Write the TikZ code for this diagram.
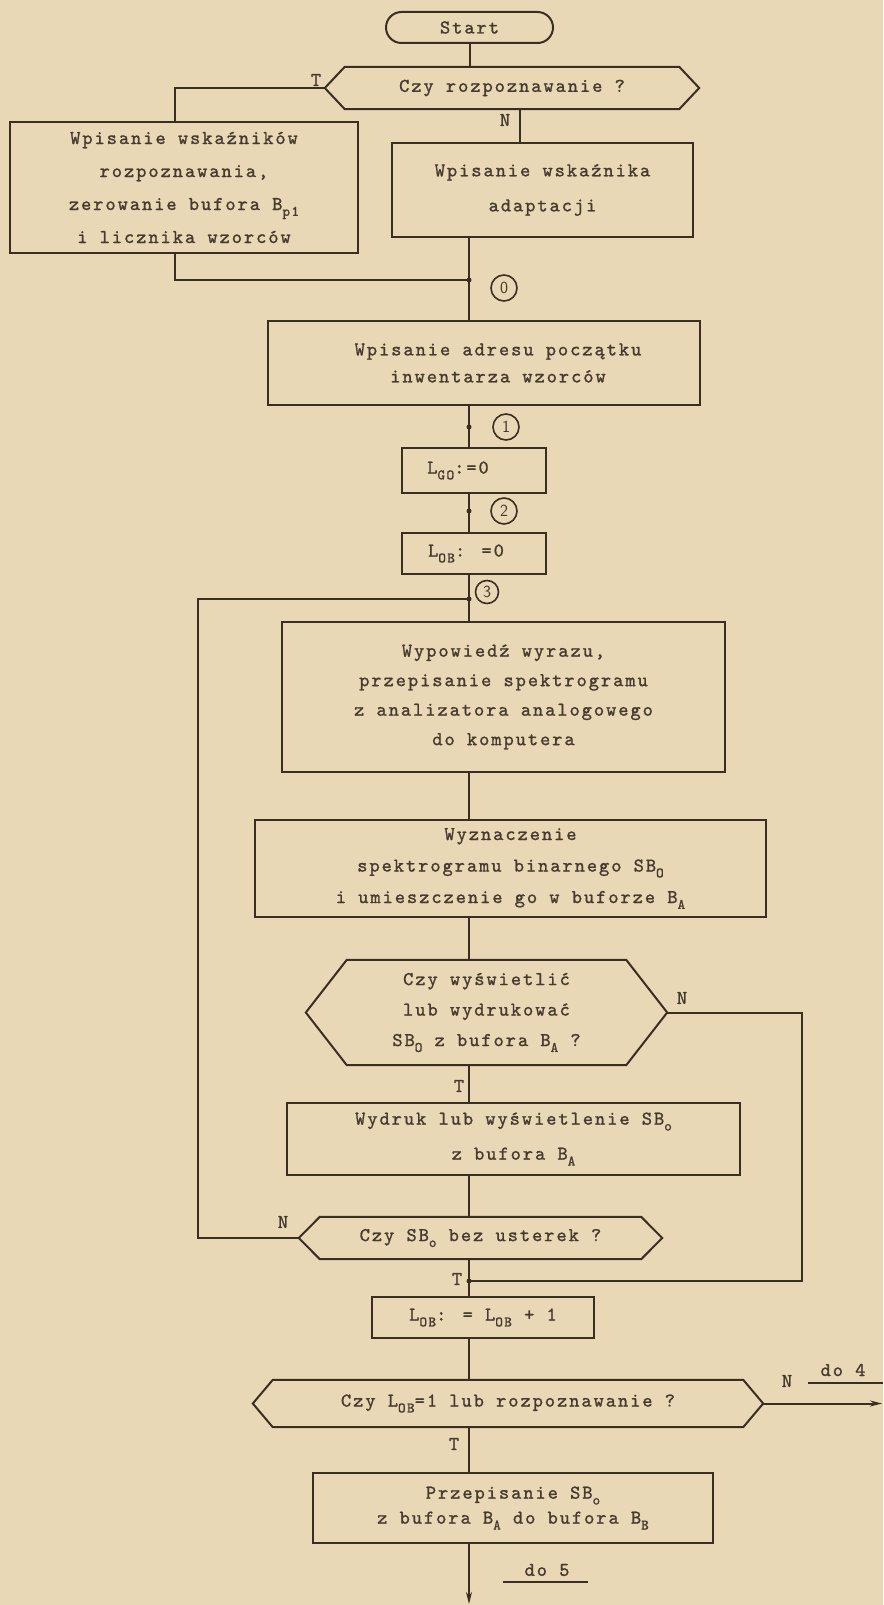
\documentclass[tikz,border=0pt]{standalone}
\usepackage{fontspec}
\newfontfamily\tw{lmmono10-regular.otf}[LetterSpace=10,FakeBold=1.2]
\usetikzlibrary{shapes.misc,arrows.meta,calc}
\definecolor{paper}{RGB}{233,216,182}
\definecolor{ink}{RGB}{58,46,35}
\definecolor{txt}{RGB}{70,58,46}
\newcommand\sbx[1]{\raisebox{-0.3em}{\fontsize{14.5}{14.5}\selectfont #1}}
\newcommand\hexdraw[2]{\draw[lnk] (#1.west) -- ([xshift=#2]#1.north west) -- ([xshift=-#2]#1.north east) -- (#1.east) -- ([xshift=-#2]#1.south east) -- ([xshift=#2]#1.south west) -- cycle;}
\begin{document}
\begin{tikzpicture}[x=1pt,y=-1pt,
  every node/.style={text=txt, font={\tw\fontsize{19.5}{30}\selectfont}},
  ls/.style={font={\tw\fontsize{19.5}{#1}\selectfont}},
  box/.style={draw=ink, line width=2pt, rectangle, inner sep=0pt, align=center},
  hexnode/.style={inner sep=0pt, align=center},
  term/.style={draw=ink, line width=2pt, rounded rectangle, inner sep=0pt},
  lnk/.style={draw=ink, line width=2pt},
  lbl/.style={inner sep=0pt},
  conn/.style={draw=ink, line width=1.6pt, circle, inner sep=0pt, minimum size=26pt, font={\sffamily\fontsize{17}{17}\selectfont}},
  dot/.style={fill=ink, circle, inner sep=0pt, minimum size=5pt},
]
\fill[paper] (0,0) rectangle (883,1605);
\useasboundingbox (0,0) rectangle (883,1605);

\node[term, minimum width=167pt, minimum height=31pt] (start) at (469.5,27.5) {Start};
\node[hexnode, minimum width=374pt, minimum height=42pt] (d1) at (512,88) {Czy rozpoznawanie ?};
\hexdraw{d1}{20pt}
\draw[lnk] (start.south) -- (start.south |- d1.north);
\node[lbl] (t1) at (316,80) {T};
\node[box, minimum width=348pt, minimum height=131pt, ls=33] (lb) at (184,187.5) {Wpisanie wskaźników\\rozpoznawania,\\zerowanie bufora B\sbx{p1}\\i licznika wzorców};
\draw[lnk] (d1.west) -| ([xshift=-9pt]lb.north);
\node[lbl] (n1) at (505,120) {N};
\node[box, minimum width=301pt, minimum height=94pt, ls=35] (rb) at (542.5,190) {Wpisanie wskaźnika\\adaptacji};
\draw[lnk] ([xshift=8pt]d1.south) -- ([xshift=8pt]d1.south |- rb.north);
\coordinate (j0) at (469,280);
\draw[lnk] (rb.south -| j0) -- (j0);
\draw[lnk] ([xshift=-9pt]lb.south) |- (j0);
\node[dot] (dj0) at (j0) {};
\node[conn] (c0) at (504,288) {0};
\node[box, minimum width=432pt, minimum height=84pt, ls=27] (b3) at (484,363) {\hspace*{28pt}Wpisanie adresu początku\\\hspace*{28pt}inwentarza wzorców};
\draw[lnk] (j0) -- (j0 |- b3.north);
\coordinate (j1) at (469,427);
\node[box, minimum width=144pt, minimum height=45pt] (lgo) at (474,470.5) {L\sbx{GO}:=0\hspace*{32pt}};
\draw[lnk] (b3.south -| j0) -- (lgo.north -| j0);
\node[dot] (dj1) at (j1) {};
\node[conn] (c1) at (506,427) {1};
\coordinate (j2) at (469,511);
\node[box, minimum width=144pt, minimum height=41pt] (lob) at (474,553.5) {L\sbx{OB}: =0\hspace*{16pt}};
\draw[lnk] (lgo.south -| j0) -- (lob.north -| j0);
\node[dot] (dj2) at (j2) {};
\node[conn] (c2) at (504,511) {2};
\coordinate (j3) at (469,599);
\node[box, minimum width=443pt, minimum height=150pt, ls=29.5] (bb) at (503.5,697) {Wypowiedź wyrazu,\\przepisanie spektrogramu\\z analizatora analogowego\\do komputera};
\draw[lnk] (lob.south -| j0) -- (bb.north -| j0);
\node[dot] (dj3) at (j3) {};
\node[conn, minimum size=23pt] (c3) at (487,592) {3};
\node[box, minimum width=511pt, minimum height=97pt, ls=31.5] (wz) at (510.5,868.5) {Wyznaczenie\\spektrogramu binarnego SB\sbx{O}\\i umieszczenie go w buforze B\sbx{A}};
\draw[lnk] (bb.south -| j0) -- (wz.north -| j0);
\node[hexnode, minimum width=361pt, minimum height=105pt, ls=30.5] (h2) at (486.5,1012.5) {Czy wyświetlić\\lub wydrukować\\SB\sbx{O} z bufora B\sbx{A} ?};
\hexdraw{h2}{41pt}
\draw[lnk] (wz.south -| j0) -- (h2.north -| j0);
\node[lbl] (n2) at (682,998) {N};
\node[lbl] (t2) at (459,1086) {T};
\node[box, minimum width=453pt, minimum height=72pt, ls=35] (wd) at (513.5,1139) {Wydruk lub wyświetlenie SB\sbx{o}\\z bufora B\sbx{A}};
\draw[lnk] (h2.south -| j0) -- (wd.north -| j0);
\node[hexnode, minimum width=363pt, minimum height=42pt] (h3) at (480.5,1238) {Czy SB\sbx{o} bez usterek ?};
\hexdraw{h3}{21pt}
\draw[lnk] (wd.south -| j0) -- (h3.north -| j0);
\node[lbl] (n3) at (283,1222) {N};
\coordinate (lt) at (198,599);
\draw[lnk] (h3.west) -| (lt) -- (j3);
\coordinate (j5) at (469,1281);
\coordinate (rt) at (802,1281);
\draw[lnk] (h2.east) -| (rt) -- (j5);
\node[lbl] (t3) at (457,1279) {T};
\node[box, minimum width=222pt, minimum height=41pt] (lp) at (483,1317.5) {L\sbx{OB}: = L\sbx{OB} + 1};
\draw[lnk] (h3.south -| j0) -- (lp.north -| j0);
\node[dot] (dj5) at (j5) {};
\node[hexnode, minimum width=510pt, minimum height=47pt] (d4) at (508,1403.5) {Czy L\sbx{OB}=1 lub rozpoznawanie ?};
\hexdraw{d4}{20pt}
\draw[lnk] (lp.south -| j0) -- (d4.north -| j0);
\node[lbl] (n4) at (787,1381) {N};
\node[lbl] (do4) at (843,1370) {do 4};
\draw[lnk, line width=1.5pt] (808,1383) -- (883,1383);
\coordinate (e4) at (882,1403.5);
\draw[lnk, -{Stealth[length=12pt,width=6pt]}] (d4.east) -- (e4);
\node[lbl] (t4) at (454,1444) {T};
\node[box, minimum width=400pt, minimum height=70pt, ls=25] (pb) at (513,1508) {Przepisanie SB\sbx{o}\\z bufora B\sbx{A} do bufora B\sbx{B}};
\draw[lnk] (d4.south -| j0) -- (pb.north -| j0);
\coordinate (e5) at (469,1604);
\draw[lnk, -{Stealth[length=12pt,width=6pt]}] (pb.south -| j0) -- (e5);
\node[lbl] (do5) at (547,1570) {do 5};
\draw[lnk, line width=1.5pt] (503,1582) -- (588,1582);
\end{tikzpicture}
\end{document}
